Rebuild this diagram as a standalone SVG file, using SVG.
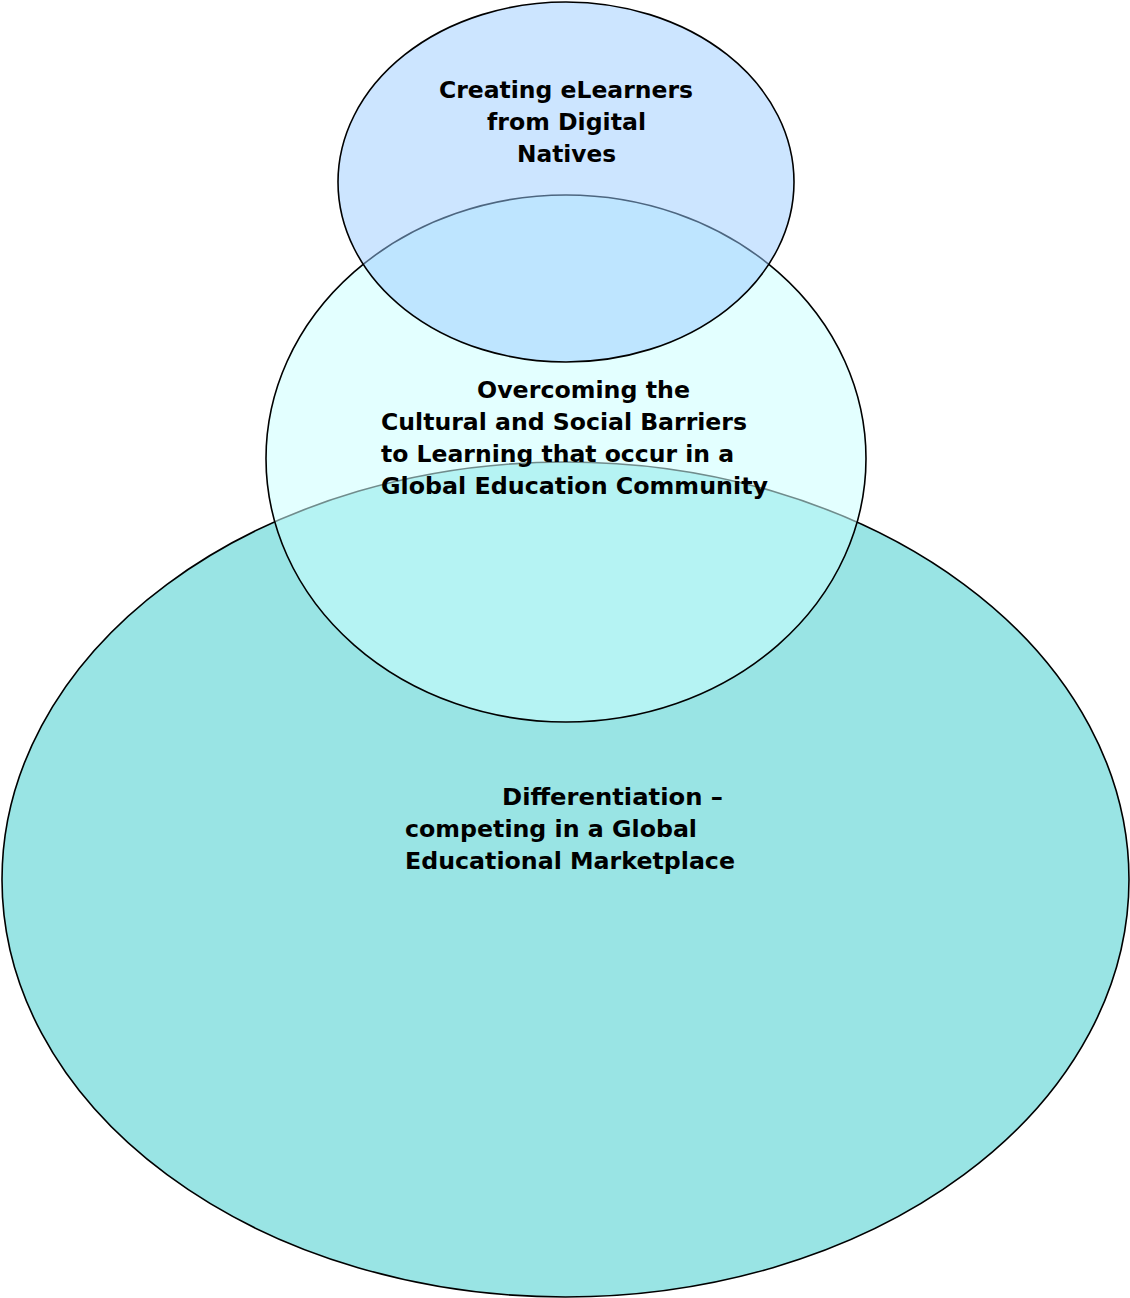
<svg xmlns="http://www.w3.org/2000/svg" width="1130" height="1298" viewBox="0 0 1130 1298">
<style>
.shape{stroke:#000;stroke-width:1.6}
.lbl{font-family:"DejaVu Sans","Verdana",sans-serif;font-weight:bold;font-size:23.5px;fill:#000}
</style>
<rect width="1130" height="1298" fill="#fff"/>
<g id="node-differentiation">
<ellipse class="shape" cx="565.5" cy="879.5" rx="563.5" ry="417.5" fill="#99e4e4"/>
<text class="lbl"><tspan x="502" y="805" textLength="221" lengthAdjust="spacingAndGlyphs">Differentiation –</tspan><tspan x="405" y="837" textLength="292" lengthAdjust="spacingAndGlyphs">competing in a Global</tspan><tspan x="405" y="869" textLength="330" lengthAdjust="spacingAndGlyphs">Educational Marketplace</tspan></text>
</g>
<g id="node-barriers">
<ellipse class="shape" cx="566" cy="458.5" rx="300" ry="263.5" fill="#ccffff" fill-opacity="0.55"/>
<text class="lbl"><tspan x="477" y="398" textLength="213" lengthAdjust="spacingAndGlyphs">Overcoming the</tspan><tspan x="381" y="430" textLength="366" lengthAdjust="spacingAndGlyphs">Cultural and Social Barriers</tspan><tspan x="381" y="462" textLength="353" lengthAdjust="spacingAndGlyphs">to Learning that occur in a</tspan><tspan x="381" y="494" textLength="387" lengthAdjust="spacingAndGlyphs">Global Education Community</tspan></text>
</g>
<g id="node-elearners">
<ellipse class="shape" cx="566" cy="182" rx="228" ry="180" fill="#99ccff" fill-opacity="0.5"/>
<text class="lbl"><tspan x="439" y="98" textLength="254" lengthAdjust="spacingAndGlyphs">Creating eLearners</tspan><tspan x="487" y="130" textLength="159" lengthAdjust="spacingAndGlyphs">from Digital</tspan><tspan x="517" y="162" textLength="99" lengthAdjust="spacingAndGlyphs">Natives</tspan></text>
</g>
<g id="connectors"/>
</svg>
